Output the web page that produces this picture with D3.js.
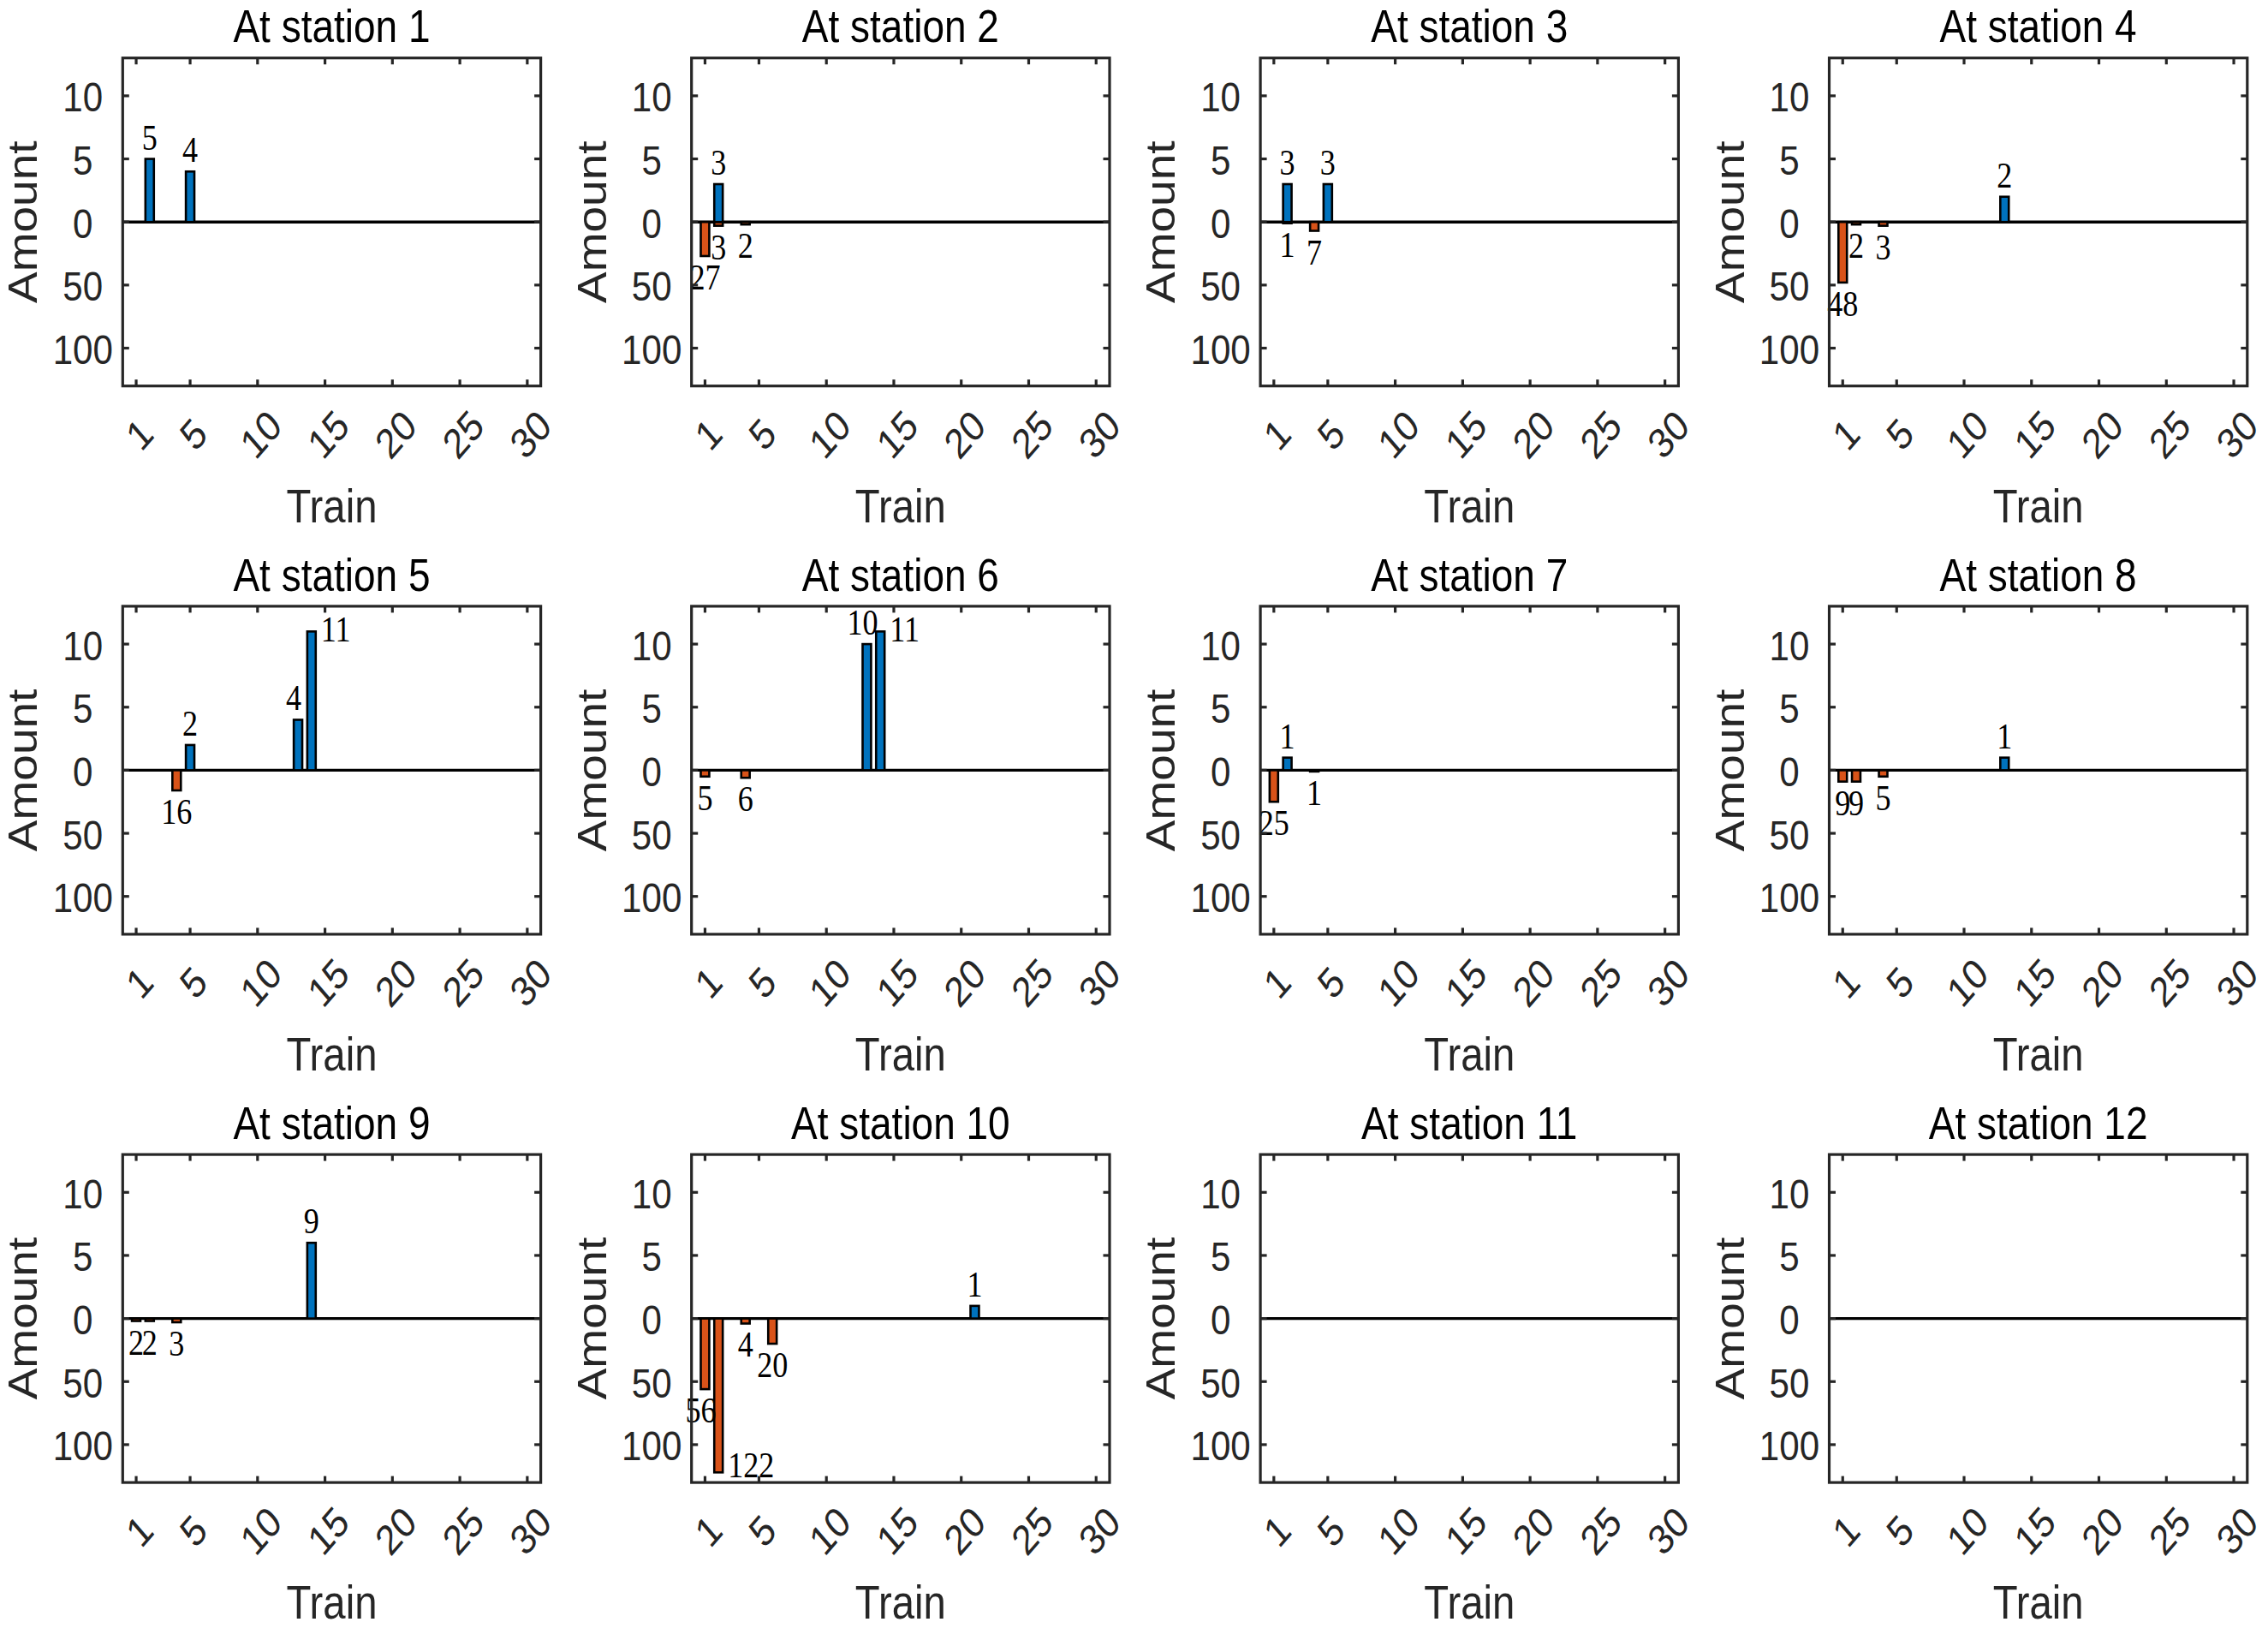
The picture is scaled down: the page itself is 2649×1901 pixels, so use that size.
<!DOCTYPE html>
<html>
<head>
<meta charset="utf-8">
<script src="https://cdn.jsdelivr.net/npm/d3@7"></script>
<style>
  html, body { margin: 0; padding: 0; background: #ffffff; }
  svg { display: block; }
</style>
</head>
<body>
<svg id="chart" width="2649" height="1901"></svg>
<script>
// ---------------- data ----------------
const stations = [1, 2, 3, 4, 5, 6, 7, 8, 9, 10, 11, 12];
const xTickValues = [1, 5, 10, 15, 20, 25, 30];
const yTickValues = [-10, -5, 0, 5, 10];
const yTickLabels = ["100", "50", "0", "5", "10"];
const negScale = 10; // amounts below the axis are drawn at 1/10 scale

// blue bars (above zero)
const boardTrains  = [[2, 5], [2], [2, 5], [13], [5, 13, 14], [13, 14], [2], [13], [14], [21], [], []];
const boardAmounts = [[5, 4], [3], [3, 3], [2], [2, 4, 11], [10, 11], [1], [1], [6], [1], [], []];
const boardLabels  = [["5", "4"], ["3"], ["3", "3"], ["2"], ["2", "4", "11"], ["10", "11"], ["1"], ["1"], ["9"], ["1"], [], []];

// orange bars (below zero)
const leftTrains  = [[], [1, 2, 4], [2, 4], [1, 2, 4], [4], [1, 4], [1, 4], [1, 2, 4], [1, 2, 4], [1, 2, 4, 6], [], []];
const leftAmounts = [[], [27, 3, 2], [1, 7], [48, 2, 3], [16], [5, 6], [25, 1], [9, 9, 5], [2, 2, 3], [56, 122, 4, 20], [], []];

// ---------------- layout ----------------
const SX = 0.86;               // horizontal squeeze of the text
const colLeft0 = 143.3, colStep = 664.4;
const rowTop0 = 67.7, rowStep = 640.2;
const PW = 488.3, PH = 383;
const BLUE = "#0072BD", ORANGE = "#D95319", AXIS = "#262626";
const SANS = "'Liberation Sans', Arial, sans-serif";
const SERIF = "'Liberation Serif', 'Times New Roman', serif";

const svg = d3.select("#chart");
svg.append("rect").attr("width", 2649).attr("height", 1901).attr("fill", "#fff");

function txt(parent, x, y, str, o) {
  const g = parent.append("g")
    .attr("transform", `translate(${x},${y}) scale(${SX},1)` + (o.rotate ? ` rotate(${o.rotate})` : ""));
  g.append("text")
    .attr("text-anchor", o.anchor || "middle")
    .attr("dy", o.dy || 0)
    .attr("fill", o.fill || "#000")
    .style("font-family", o.family || SANS)
    .style("font-size", o.size + "px")
    .text(str);
  return g;
}

const x = d3.scaleLinear().domain([0, 31]).range([0, PW]);
const y = d3.scaleLinear().domain([-13, 13]).range([PH, 0]);
const barW = x(0.63) - x(0);

stations.forEach((st, i) => {
  const col = i % 4, row = Math.floor(i / 4);
  const g = svg.append("g")
    .attr("transform", `translate(${colLeft0 + col * colStep},${rowTop0 + row * rowStep})`);

  // baseline
  g.append("line")
    .attr("x1", 0).attr("x2", PW).attr("y1", y(0)).attr("y2", y(0))
    .attr("stroke", "#000").attr("stroke-width", 3.4);

  const pos = boardTrains[i].map((t, k) => ({ t, v: boardAmounts[i][k], lab: boardLabels[i][k], sign: 1 }));
  const neg = leftTrains[i].map((t, k) => ({ t, v: -leftAmounts[i][k] / negScale, lab: String(leftAmounts[i][k]), sign: -1 }));

  // bars
  g.selectAll("rect.neg").data(neg).enter().append("rect")
    .attr("class", "neg")
    .attr("x", d => x(d.t) - barW / 2).attr("width", barW)
    .attr("y", y(0)).attr("height", d => y(d.v) - y(0))
    .attr("fill", ORANGE).attr("stroke", "#000").attr("stroke-width", 2.6);
  g.selectAll("rect.pos").data(pos).enter().append("rect")
    .attr("class", "pos")
    .attr("x", d => x(d.t) - barW / 2).attr("width", barW)
    .attr("y", d => y(d.v)).attr("height", d => y(0) - y(d.v))
    .attr("fill", BLUE).attr("stroke", "#000").attr("stroke-width", 2.6);

  // value labels
  function overflow(d) {
    if (d.sign > 0) return (y(d.v) - 11 - 28.5) < 0;
    return (y(d.v) + 39) > PH;
  }
  [pos, neg].forEach(list => {
    list.forEach(d => {
      const nb = list.find(e => e.t === d.t + 1);
      const shift = (nb && overflow(nb)) ? -5 : 0;
      if (overflow(d)) {
        const bx = x(d.t) + barW / 2 + 6;
        const by = d.sign > 0 ? y(d.v) + 12 : y(d.v) + 6;
        txt(g, bx, by, d.lab, { size: 42, family: SERIF, anchor: "start" });
      } else {
        const by = d.sign > 0 ? y(d.v) - 11 : y(d.v) + 39;
        txt(g, x(d.t) + shift, by, d.lab, { size: 42, family: SERIF });
      }
    });
  });

  // box
  g.append("rect").attr("x", 0).attr("y", 0).attr("width", PW).attr("height", PH)
    .attr("fill", "none").attr("stroke", AXIS).attr("stroke-width", 3.2);

  // ticks (inside, on all four sides)
  const tl = 7.5;
  xTickValues.forEach(v => {
    g.append("line").attr("x1", x(v)).attr("x2", x(v)).attr("y1", PH).attr("y2", PH - tl)
      .attr("stroke", AXIS).attr("stroke-width", 3.2);
    g.append("line").attr("x1", x(v)).attr("x2", x(v)).attr("y1", 0).attr("y2", tl)
      .attr("stroke", AXIS).attr("stroke-width", 3.2);
    txt(g, x(v) + 3.5, PH + 56, String(v), { size: 49, rotate: -45, dy: "0.36em", fill: AXIS });
  });
  yTickValues.forEach((v, k) => {
    g.append("line").attr("x1", 0).attr("x2", tl).attr("y1", y(v)).attr("y2", y(v))
      .attr("stroke", AXIS).attr("stroke-width", 3.2);
    g.append("line").attr("x1", PW).attr("x2", PW - tl).attr("y1", y(v)).attr("y2", y(v))
      .attr("stroke", AXIS).attr("stroke-width", 3.2);
    txt(g, -46.5, y(v) + 18.5, yTickLabels[k], { size: 49, fill: AXIS });
  });

  // title and axis labels
  txt(g, PW / 2, -18.4, "At station " + st, { size: 53.5 });
  txt(g, PW / 2, PH + 159, "Train", { size: 55, fill: AXIS });
  txt(g, -100, PH / 2, "Amount", { size: 55, rotate: -90, fill: AXIS });
});
</script>
</body>
</html>
